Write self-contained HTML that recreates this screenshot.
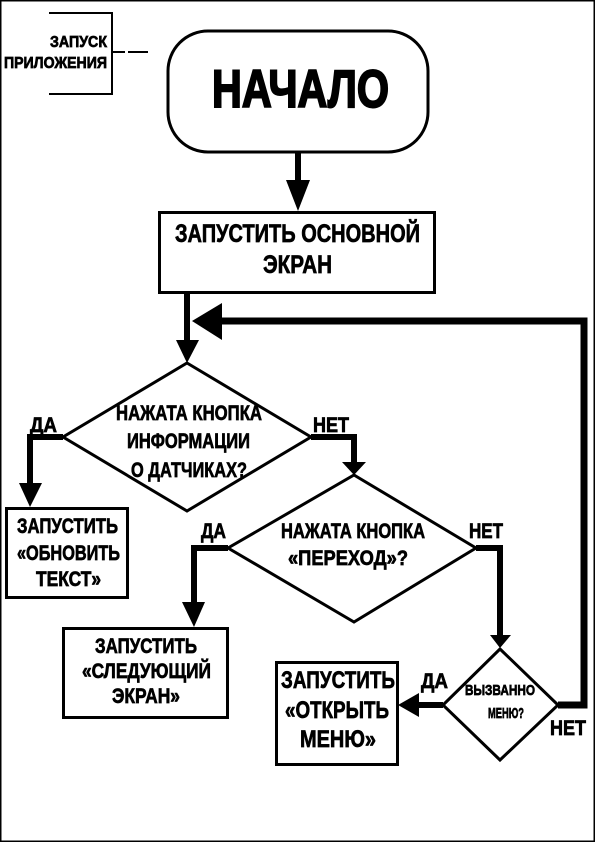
<!DOCTYPE html>
<html><head><meta charset="utf-8"><style>
html,body{margin:0;padding:0;background:#fff}
svg{display:block}
text{font-family:"Liberation Sans",sans-serif;font-weight:bold;fill:#000;stroke:#000;stroke-width:0.7;text-transform:uppercase}
</style></head><body>
<svg width="595" height="842" viewBox="0 0 595 842" xmlns="http://www.w3.org/2000/svg">
<rect x="0.75" y="0.75" width="593.5" height="840.5" fill="none" stroke="#000" stroke-width="1.5"/>
<polyline points="49,13 112,13 112,94 49,94" fill="none" stroke="#000" stroke-width="2"/>
<line x1="112" y1="52" x2="125" y2="52" stroke="#000" stroke-width="2"/>
<line x1="128" y1="52" x2="148" y2="52" stroke="#000" stroke-width="2"/>
<text x="50" y="47" font-size="16" textLength="57" lengthAdjust="spacingAndGlyphs">ЗАПУСК</text>
<text x="4" y="68" font-size="16" textLength="103" lengthAdjust="spacingAndGlyphs">ПРИЛОЖЕНИЯ</text>
<rect x="168" y="31" width="260" height="121" rx="40" fill="#fff" stroke="#000" stroke-width="3"/>
<text x="212" y="107" font-size="53" textLength="177" lengthAdjust="spacingAndGlyphs" style="stroke-width:2">начало</text>
<line x1="298" y1="152" x2="298" y2="182" stroke="#000" stroke-width="6"/>
<polygon points="286,180 310,180 298,211" fill="#000"/>
<rect x="159.5" y="212.5" width="275" height="80" fill="#fff" stroke="#000" stroke-width="3"/>
<text x="175" y="242" font-size="25" textLength="245" lengthAdjust="spacingAndGlyphs">запустить основной</text>
<text x="263" y="273" font-size="25" textLength="69" lengthAdjust="spacingAndGlyphs">экран</text>
<line x1="187" y1="293" x2="187" y2="342" stroke="#000" stroke-width="6"/>
<polygon points="176,340 199,340 187,363" fill="#000"/>
<polyline points="558,705 584,705 584,321 210,321" fill="none" stroke="#000" stroke-width="7"/>
<polygon points="192,321 222,303 222,340" fill="#000"/>
<polygon points="187,363 311,437 187,511 63,437" fill="#fff" stroke="#000" stroke-width="3"/>
<text x="116" y="420" font-size="21" textLength="146" lengthAdjust="spacingAndGlyphs">нажата кнопка</text>
<text x="127" y="448" font-size="21" textLength="123" lengthAdjust="spacingAndGlyphs">информации</text>
<text x="131" y="477" font-size="21" textLength="116" lengthAdjust="spacingAndGlyphs">о датчиках?</text>
<text x="30" y="432" font-size="21" textLength="27" lengthAdjust="spacingAndGlyphs">да</text>
<text x="313" y="432" font-size="21" textLength="36" lengthAdjust="spacingAndGlyphs">НЕТ</text>
<polyline points="63,437 30,437 30,485" fill="none" stroke="#000" stroke-width="6"/>
<polygon points="19,483 42,483 30,507" fill="#000"/>
<rect x="6.5" y="508.5" width="121" height="89" fill="#fff" stroke="#000" stroke-width="3"/>
<text x="17" y="533" font-size="21" textLength="101" lengthAdjust="spacingAndGlyphs">запустить</text>
<text x="17" y="560" font-size="21" textLength="103" lengthAdjust="spacingAndGlyphs">«обновить</text>
<text x="36" y="586" font-size="21" textLength="65" lengthAdjust="spacingAndGlyphs">текст»</text>
<polyline points="311,437 354,437 354,464" fill="none" stroke="#000" stroke-width="6"/>
<polygon points="342,462 366,462 354,475" fill="#000"/>
<polygon points="354,475 476,548 354,622 228,548" fill="#fff" stroke="#000" stroke-width="3"/>
<text x="281" y="538" font-size="21" textLength="144" lengthAdjust="spacingAndGlyphs">нажата кнопка</text>
<text x="288" y="565" font-size="21" textLength="120" lengthAdjust="spacingAndGlyphs">«переход»?</text>
<text x="201" y="538" font-size="21" textLength="25" lengthAdjust="spacingAndGlyphs">да</text>
<text x="469" y="538" font-size="21" textLength="34" lengthAdjust="spacingAndGlyphs">НЕТ</text>
<polyline points="228,548 194,548 194,604" fill="none" stroke="#000" stroke-width="6"/>
<polygon points="182,602 205,602 194,627" fill="#000"/>
<rect x="63.5" y="628.5" width="164" height="89" fill="#fff" stroke="#000" stroke-width="3"/>
<text x="95" y="653" font-size="21" textLength="102" lengthAdjust="spacingAndGlyphs">запустить</text>
<text x="82" y="678" font-size="21" textLength="129" lengthAdjust="spacingAndGlyphs">«следующий</text>
<text x="112" y="703" font-size="21" textLength="68" lengthAdjust="spacingAndGlyphs">экран»</text>
<polyline points="476,548 500,548 500,637" fill="none" stroke="#000" stroke-width="6"/>
<polygon points="490,635 511,635 500,648" fill="#000"/>
<polygon points="500,649 558,705 500,760 443,705" fill="#fff" stroke="#000" stroke-width="3"/>
<text x="465" y="695" font-size="15" textLength="70" lengthAdjust="spacingAndGlyphs">вызванно</text>
<text x="488" y="718" font-size="15" textLength="36" lengthAdjust="spacingAndGlyphs">меню?</text>
<text x="421" y="688" font-size="21" textLength="27" lengthAdjust="spacingAndGlyphs">да</text>
<text x="550" y="735" font-size="21" textLength="36" lengthAdjust="spacingAndGlyphs">НЕТ</text>
<line x1="443" y1="705" x2="416" y2="705" stroke="#000" stroke-width="6"/>
<polygon points="419,693 419,717 398,705" fill="#000"/>
<rect x="276.5" y="662.5" width="121" height="102" fill="#fff" stroke="#000" stroke-width="3"/>
<text x="281" y="688" font-size="24" textLength="114" lengthAdjust="spacingAndGlyphs">запустить</text>
<text x="285" y="718" font-size="24" textLength="104" lengthAdjust="spacingAndGlyphs">«открыть</text>
<text x="300" y="747" font-size="24" textLength="76" lengthAdjust="spacingAndGlyphs">меню»</text>
</svg>
</body></html>
